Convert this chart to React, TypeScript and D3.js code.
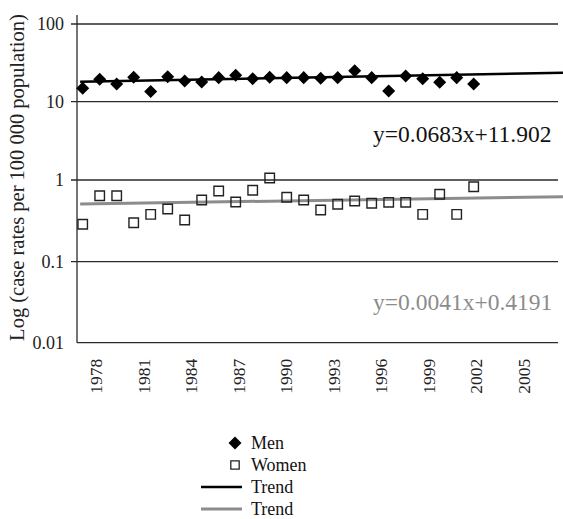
import { useEffect, useRef } from 'react';
import * as d3 from 'd3';

const yearTicks = [1978, 1981, 1984, 1987, 1990, 1993, 1996, 1999, 2002, 2005];
const logTicks = [0.01, 0.1, 1, 10, 100];
const menRates = [14.9, 19.4, 16.9, 20.6, 13.5, 21.0, 18.5, 17.9, 20.4, 21.9, 19.8, 20.6,
  20.4, 20.4, 20.0, 20.4, 25.1, 20.4, 13.7, 21.4, 19.8, 17.8, 20.4, 16.9];
const womenRates = [0.287, 0.642, 0.642, 0.300, 0.380, 0.442, 0.324, 0.569, 0.733, 0.538, 0.748, 1.06,
  0.614, 0.569, 0.430, 0.504, 0.553, 0.519, 0.533, 0.533, 0.380, 0.668, 0.380, 0.828];
// trend lines: index span and the rate at each end
const trendSpan = [-0.15, 28.25];
const menTrend = [18.1, 23.6];
const womenTrend = [0.508, 0.625];
const menEquation = 'y=0.0683x+11.902';
const womenEquation = 'y=0.0041x+0.4191';
const legendLabels = ['Men', 'Women', 'Trend', 'Trend'];

const FONT = 'Liberation Serif';
const GREY = '#8c8c8c';

const App = () => {
  const svgRef = useRef<SVGSVGElement | null>(null);

  useEffect(() => {
    const svg = d3.select(svgRef.current);
    svg.selectAll('*').remove();

    const x = d3.scaleLinear().domain([0, menRates.length - 1]).range([82.7, 473.7]);
    const xYear = d3.scaleLinear().domain([1978, 2005]).range([95.5, 523]);
    const y = d3.scaleLog()
      .domain(logTicks)
      .range([342.7, 261.7, 180, 101.7, 24]);

    // grid
    svg.append('g')
      .selectAll('line')
      .data(logTicks)
      .enter().append('line')
      .attr('x1', d => (d === 0.01 ? 77 : 71))
      .attr('x2', 558)
      .attr('y1', d => y(d))
      .attr('y2', d => y(d))
      .attr('stroke', '#2a2a2a')
      .attr('stroke-width', 1.3);

    svg.append('line')
      .attr('x1', 77).attr('x2', 77)
      .attr('y1', 15).attr('y2', y(0.01))
      .attr('stroke', '#2a2a2a')
      .attr('stroke-width', 1.3);

    const yAxis = svg.append('g')
      .attr('transform', 'translate(77,0)')
      .call(d3.axisLeft(y).tickValues(logTicks).tickSize(0).tickPadding(13).tickFormat(d => String(d)));
    yAxis.select('.domain').remove();
    yAxis.attr('font-family', FONT).attr('font-size', 18);
    yAxis.selectAll('text').attr('fill', '#222');

    const xAxis = svg.append('g')
      .attr('transform', `translate(0,${y(0.01)})`)
      .call(d3.axisBottom(xYear).tickValues(yearTicks).tickSize(0).tickFormat(d3.format('d')));
    xAxis.select('.domain').remove();
    xAxis.attr('font-family', FONT).attr('font-size', 17.5);
    xAxis.selectAll('text')
      .attr('transform', 'rotate(-90)')
      .attr('text-anchor', 'end')
      .attr('x', -16)
      .attr('y', 6)
      .attr('dy', 0)
      .attr('fill', '#222');

    svg.append('text')
      .attr('transform', 'translate(24,177.5) rotate(-90)')
      .attr('text-anchor', 'middle')
      .attr('font-size', 20.5)
      .attr('fill', '#222')
      .text('Log (case rates per 100 000 population)');

    // trend lines
    const line = d3.line<number[]>()
      .x(d => x(d[0]))
      .y(d => y(d[1]));

    svg.append('path')
      .attr('d', line(trendSpan.map((t, i) => [t, menTrend[i]])))
      .attr('fill', 'none')
      .attr('stroke', '#000')
      .attr('stroke-width', 2.5);

    svg.append('path')
      .attr('d', line(trendSpan.map((t, i) => [t, womenTrend[i]])))
      .attr('fill', 'none')
      .attr('stroke', GREY)
      .attr('stroke-width', 3);

    const diamond = d3.symbol().type(d3.symbolSquare).size(85);
    const square = d3.symbol().type(d3.symbolSquare).size(90);

    svg.append('g')
      .selectAll('path')
      .data(menRates)
      .enter().append('path')
      .attr('d', diamond)
      .attr('transform', (d, i) => `translate(${x(i)},${y(d)}) rotate(45)`)
      .attr('fill', '#000');

    svg.append('g')
      .selectAll('path')
      .data(womenRates)
      .enter().append('path')
      .attr('d', square)
      .attr('transform', (d, i) => `translate(${x(i)},${y(d)})`)
      .attr('fill', 'none')
      .attr('stroke', '#222')
      .attr('stroke-width', 1.4);

    svg.append('text')
      .attr('x', 373).attr('y', 141.5)
      .attr('font-size', 23.5)
      .attr('fill', '#111')
      .text(menEquation);

    svg.append('text')
      .attr('x', 373).attr('y', 309.5)
      .attr('font-size', 23.5)
      .attr('fill', GREY)
      .text(womenEquation);

    // legend
    const legend = svg.append('g');
    legendLabels.forEach((label, i) => {
      const ry = 443 + i * 22;
      if (i === 0) {
        legend.append('path')
          .attr('d', diamond)
          .attr('transform', `translate(235,${ry}) rotate(45)`)
          .attr('fill', '#000');
      } else if (i === 1) {
        legend.append('path')
          .attr('d', d3.symbol().type(d3.symbolSquare).size(70))
          .attr('transform', `translate(235,${ry})`)
          .attr('fill', 'none')
          .attr('stroke', '#222')
          .attr('stroke-width', 1.3);
      } else {
        legend.append('line')
          .attr('x1', 201).attr('x2', 242)
          .attr('y1', ry).attr('y2', ry)
          .attr('stroke', i === 2 ? '#000' : GREY)
          .attr('stroke-width', i === 2 ? 2.5 : 3);
      }
      legend.append('text')
        .attr('x', 251)
        .attr('y', ry + 5.5)
        .attr('font-size', 18)
        .attr('fill', '#111')
        .text(label);
    });
  }, []);

  return (
    <svg
      ref={svgRef}
      width={563}
      height={519}
      fontFamily={FONT}
      style={{ position: 'absolute', left: 0, top: 0, background: '#fff' }}
    />
  );
};

export default App;
